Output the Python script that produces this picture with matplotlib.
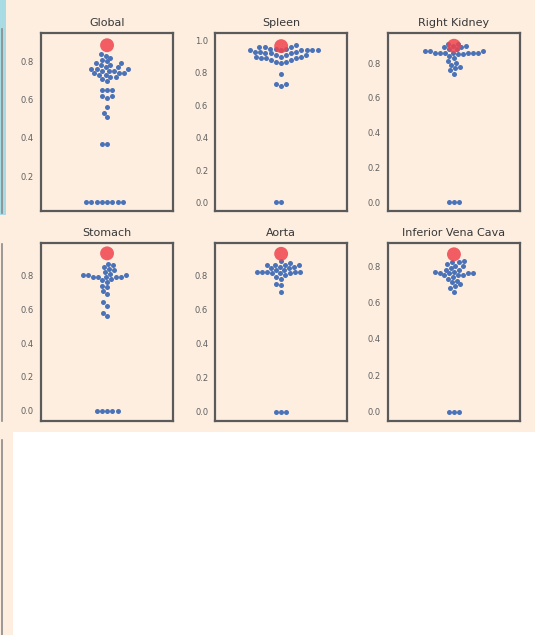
"""Swarm plots of per-case scores by organ (2x3 grid), red dot = reference score."""
import matplotlib
matplotlib.use("Agg")
import matplotlib.pyplot as plt  # noqa: E402
from matplotlib.patches import Rectangle  # noqa: E402
from matplotlib.lines import Line2D  # noqa: E402
import seaborn as sns  # noqa: E402

C_BG = "#fdeee0"
C_BLUE = "#4a72b8"
C_RED = "#f0444c"
C_FRAME = "#5a5a5a"

ORGANS = ["Global", "Spleen", "Right Kidney", "Stomach", "Aorta", "Inferior Vena Cava"]

GLOBAL = [0.065] * 8 + [0.37, 0.37, 0.51, 0.53, 0.56, 0.61, 0.62, 0.62, 0.65, 0.65, 0.65,
                        0.70, 0.71, 0.72, 0.72, 0.73, 0.73, 0.74, 0.74, 0.74, 0.75, 0.75, 0.75,
                        0.76, 0.76, 0.76, 0.77, 0.77, 0.78, 0.78, 0.79, 0.79, 0.80, 0.81,
                        0.82, 0.83, 0.84]
SPLEEN = [0.0, 0.0, 0.72, 0.73, 0.73, 0.79,
          0.86, 0.87, 0.87, 0.88, 0.88, 0.89, 0.89, 0.89, 0.90, 0.90, 0.90, 0.91, 0.91, 0.91,
          0.92, 0.92, 0.92, 0.93, 0.93, 0.93, 0.94, 0.94, 0.94, 0.94, 0.94, 0.94,
          0.95, 0.95, 0.95, 0.96, 0.96, 0.96, 0.97]
RIGHT_KIDNEY = [0.0, 0.0, 0.0, 0.74, 0.76, 0.77, 0.78, 0.79, 0.80, 0.81,
                0.83, 0.84, 0.85, 0.85, 0.86, 0.86, 0.86, 0.86, 0.86, 0.86, 0.86,
                0.87, 0.87, 0.87, 0.88, 0.88, 0.89, 0.89, 0.90, 0.90, 0.91, 0.91]
STOMACH = [0.0] * 5 + [0.56, 0.58, 0.62, 0.64, 0.69, 0.71, 0.73, 0.74,
                       0.76, 0.77, 0.78, 0.79, 0.79, 0.79, 0.79, 0.79, 0.80, 0.80, 0.80,
                       0.81, 0.82, 0.83, 0.84, 0.85, 0.86, 0.87]
AORTA = [0.0] * 3 + [0.70, 0.74, 0.75, 0.78, 0.79, 0.80, 0.81, 0.81, 0.81, 0.82, 0.82,
                     0.82, 0.82, 0.82, 0.83, 0.83, 0.84, 0.84, 0.85, 0.85, 0.86, 0.86,
                     0.86, 0.86, 0.87, 0.88]
IVC = [0.0] * 3 + [0.66, 0.68, 0.69, 0.70, 0.71, 0.72, 0.73, 0.74, 0.75, 0.75, 0.75, 0.76,
                   0.76, 0.76, 0.76, 0.77, 0.77, 0.78, 0.78, 0.79, 0.80, 0.80, 0.81, 0.82,
                   0.82, 0.83]
SCORES = [GLOBAL, SPLEEN, RIGHT_KIDNEY, STOMACH, AORTA, IVC]
REFERENCE = [0.885, 0.965, 0.90, 0.93, 0.925, 0.865]

YLIMS = [(0.018, 0.949), (-0.052, 1.046), (-0.048, 0.973),
         (-0.06, 0.99), (-0.055, 0.987), (-0.052, 0.926)]

fig = plt.figure(figsize=(5.35, 6.35), dpi=100, facecolor=C_BG)

# page bits around the crop
fig.patches.append(Rectangle((0.024, 0), 0.976, 0.3197, transform=fig.transFigure,
                             facecolor="white", edgecolor="none", zorder=0))
fig.patches.append(Rectangle((0, 0.661), 0.012, 0.339, transform=fig.transFigure,
                             facecolor="#a9dbe5", edgecolor="none", zorder=0))
for y0, y1 in ((0.665, 0.955), (0.337, 0.615), (0.0, 0.307)):
    fig.lines.append(Line2D([0.003, 0.003], [y0, y1], transform=fig.transFigure,
                            color="#8a8a8a", lw=1.2))

lefts = [0.0766, 0.402, 0.725]
bottoms = [0.668, 0.337]
w, h = 0.247, 0.280

for i, (name, vals) in enumerate(zip(ORGANS, SCORES)):
    ax = fig.add_axes([lefts[i % 3], bottoms[i // 3], w, h])
    ax.set_facecolor(C_BG)
    sns.swarmplot(y=vals, ax=ax, color=C_BLUE, size=3.6, linewidth=0)
    ax.scatter([0], [REFERENCE[i]], s=100, color=C_RED, alpha=0.85, zorder=4,
               edgecolors="none")
    ax.set_xlim(-0.5, 0.5)
    ax.set_ylim(*YLIMS[i])
    ax.set_xticks([])
    ax.set_ylabel("")
    ax.set_title(name, fontsize=8, color="#383838", pad=5)
    ax.tick_params(axis="y", length=0, pad=5, labelsize=6, labelcolor="#606060")
    ax.yaxis.set_major_locator(matplotlib.ticker.MultipleLocator(0.2))
    for spine in ax.spines.values():
        spine.set_visible(True)
        spine.set_color(C_FRAME)
        spine.set_linewidth(1.6)

fig.savefig("out.png", dpi=100, facecolor=C_BG)
